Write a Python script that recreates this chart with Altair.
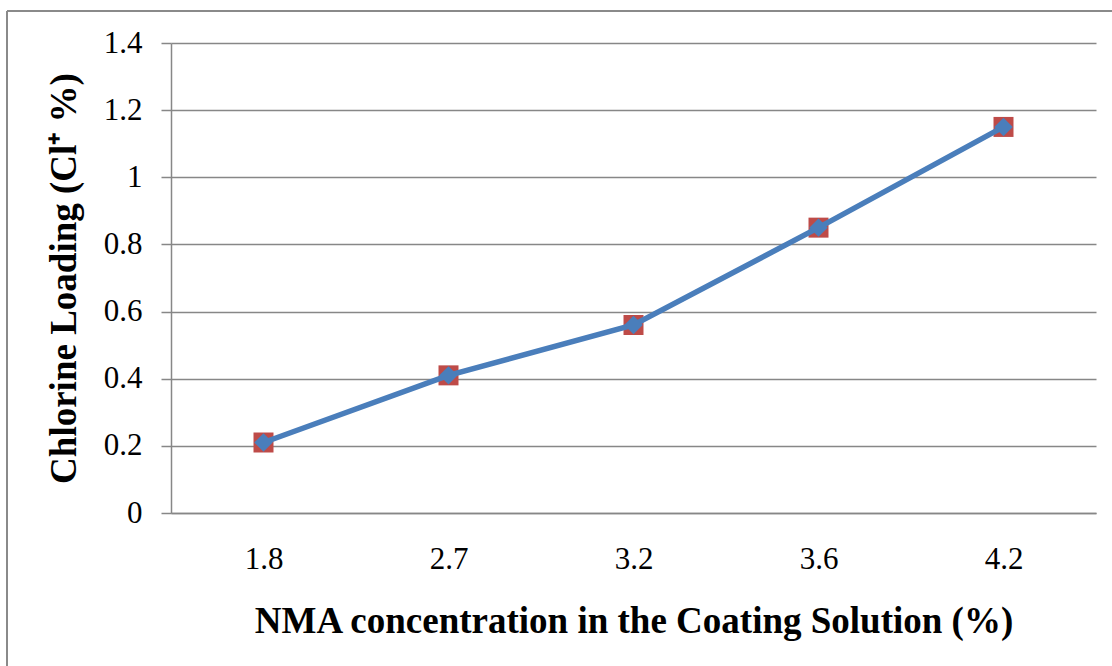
import altair as alt
import pandas as pd

nma = ["1.8", "2.7", "3.2", "3.6", "4.2"]
loading = [0.21, 0.41, 0.56, 0.85, 1.15]

df = pd.DataFrame({"nma": nma, "cl": loading})

FONT = "Liberation Serif"
GRID = "#878787"

x_enc = alt.X(
    "nma:N",
    sort=None,
    scale=alt.Scale(type="point", padding=0.5),
    axis=alt.Axis(
        title="NMA concentration in the Coating Solution (%)",
        labelAngle=0,
        ticks=False,
        labelPadding=31,
        titleFontSize=37,
        titleFontWeight="bold",
        titleBaseline="alphabetic",
        titleY=119,
        grid=False,
    ),
)
y_enc = alt.Y(
    "cl:Q",
    scale=alt.Scale(domain=[0, 1.4]),
    axis=alt.Axis(
        title="Chlorine Loading (Cl⁺ %)",
        values=[0, 0.2, 0.4, 0.6, 0.8, 1.0, 1.2, 1.4],
        format="~g",
        tickSize=10,
        labelPadding=19,
        titleFontSize=37,
        titleFontWeight="bold",
        titleBaseline="alphabetic",
        titleX=-96,
        grid=True,
    ),
)

base = alt.Chart(df)

red = base.mark_point(shape="square", filled=True, size=400, color="#BE4B48", opacity=1).encode(x=x_enc, y=y_enc)
line = base.mark_line(color="#4A7EBB", strokeWidth=5.5).encode(x=x_enc, y=y_enc)
blue = base.mark_point(shape="diamond", filled=True, size=340, color="#4A7EBB", opacity=1).encode(x=x_enc, y=y_enc)

frame_left = alt.Chart(df).mark_rule(color="#8a8a8a", strokeWidth=1.5).encode(
    x=alt.value(-164), y=alt.value(-32), y2=alt.value(640)
)
frame_top = alt.Chart(df).mark_rule(color="#8a8a8a", strokeWidth=1.5).encode(
    y=alt.value(-32), x=alt.value(-164), x2=alt.value(960)
)

chart = (
    alt.layer(frame_left, frame_top, red, line, blue)
    .properties(
        width=925,
        height=470,
        autosize=alt.AutoSizeParams(type="none"),
        padding={"left": 171, "top": 43, "right": 16, "bottom": 153},
        background="white",
    )
    .configure_view(stroke=None)
    .configure_axis(
        labelFont=FONT,
        titleFont=FONT,
        labelFontSize=31,
        labelColor="black",
        titleColor="black",
        domainColor=GRID,
        domainWidth=1.5,
        tickColor=GRID,
        tickWidth=1.5,
        gridColor=GRID,
        gridWidth=1.5,
    )
)

chart.save("out.html", embed_options={"renderer": "svg", "actions": False})
